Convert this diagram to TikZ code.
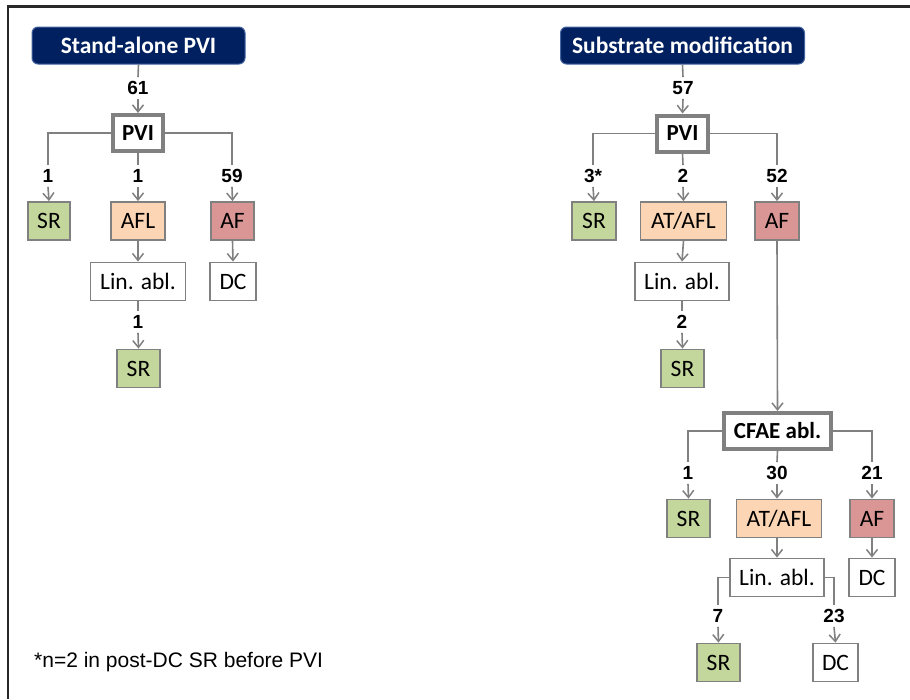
\documentclass[tikz,border=0pt]{standalone}
\usepackage{fontspec}
\setmainfont{Carlito}
\newfontfamily\numfont{Liberation Sans}
\usetikzlibrary{arrows.meta}
\definecolor{hdrblue}{RGB}{0,32,96}
\definecolor{hdredge}{RGB}{70,100,160}
\definecolor{srgreen}{RGB}{195,214,155}
\definecolor{flpeach}{RGB}{252,213,180}
\definecolor{afred}{RGB}{217,150,148}
\definecolor{edgegrey}{RGB}{128,128,128}
\definecolor{framegrey}{RGB}{40,40,40}
\tikzset{
  hdr/.style={draw=hdredge, line width=1pt, fill=hdrblue, rounded corners=6pt, text=white,
    font=\fontsize{23.5}{26}\selectfont\bfseries, inner sep=0pt, minimum height=37pt},
  box/.style={draw=edgegrey, line width=1.8pt, inner sep=0pt, minimum height=38pt,
    font=\fontsize{23.5}{26}\selectfont, fill=white},
  thickbox/.style={draw=edgegrey, line width=4pt, inner sep=0pt, minimum height=36pt,
    font=\fontsize{23}{26}\selectfont\bfseries, fill=white},
  srbox/.style={box, fill=srgreen},
  flbox/.style={box, fill=flpeach},
  afbox/.style={box, fill=afred},
  lab/.style={font=\numfont\fontsize{19}{21}\selectfont\bfseries, inner xsep=0pt, inner ysep=4pt,
    text height=13.5pt, text depth=0pt},
  conn/.style={draw=edgegrey, line width=1.6pt},
  arr/.style={conn, -{Straight Barb[length=7pt,width=11pt,line width=1.5pt]}},
}
\begin{document}
\begin{tikzpicture}[x=1pt,y=-1pt]
\useasboundingbox (0,0) rectangle (910,699);
% frame
\draw[framegrey, line width=2.2pt] (8,699) -- (8,6.5) -- (910,6.5);

% ===== Left tree =====
\node[hdr, minimum width=213pt] (hdrL) at (138.5,45.5) {Stand-alone PVI};
\node[lab] (n61) at (138,88) {61};
\node[thickbox, minimum width=50pt] (pviL) at (138,133) {PVI};
\node[lab] (lL1) at (48,176) {1};
\node[lab] (lL2) at (138,176) {1};
\node[lab] (lL3) at (232,176) {59};
\node[srbox, minimum width=42pt] (srL1) at (49,221) {SR};
\node[flbox, minimum width=54pt] (aflL) at (138,221) {AFL};
\node[afbox, minimum width=43pt] (afL) at (232.5,221) {AF};
\node[box, minimum width=95pt] (linL) at (138,281.5) {Lin. abl.};
\node[box, minimum width=46pt] (dcL) at (233,281.5) {DC};
\node[lab] (lL4) at (138,322) {1};
\node[srbox, minimum width=43pt] (srL2) at (138.5,368.5) {SR};

\draw[conn] (hdrL.south) -- (n61.north);
\draw[arr] (n61.south) -- (pviL.north);
\draw[conn] (pviL.west) -| (lL1.north);
\draw[conn] (pviL.south) -- (lL2.north);
\draw[conn] (pviL.east) -| (lL3.north);
\draw[arr] (lL1.south) -- (srL1.north);
\draw[arr] (lL2.south) -- (aflL.north);
\draw[arr] (lL3.south) -- (afL.north);
\draw[arr] (aflL.south) -- (linL.north);
\draw[arr] (afL.south) -- (dcL.north);
\draw[conn] (linL.south) -- (lL4.north);
\draw[arr] (lL4.south) -- (srL2.north);

% ===== Right tree =====
\node[hdr, minimum width=244pt] (hdrR) at (682.5,45.5) {Substrate modification};
\node[lab] (n57) at (683,88) {57};
\node[thickbox, minimum width=51pt] (pviR) at (682.5,133.5) {PVI};
\node[lab] (lR1) at (593,176) {3*};
\node[lab] (lR2) at (683,176) {2};
\node[lab] (lR3) at (777,176) {52};
\node[srbox, minimum width=44pt] (srR1) at (594,221) {SR};
\node[flbox, minimum width=86pt] (atR1) at (683.5,221) {AT/AFL};
\node[afbox, minimum width=44pt] (afR1) at (777,221) {AF};
\node[box, minimum width=94pt] (linR1) at (682,281.5) {Lin. abl.};
\node[lab] (lR4) at (682,322) {2};
\node[srbox, minimum width=43pt] (srR2) at (682.5,368.5) {SR};

\node[thickbox, minimum width=107pt] (cfae) at (777.5,431) {CFAE abl.};
\node[lab] (lC1) at (688,473) {1};
\node[lab] (lC2) at (777,473) {30};
\node[lab] (lC3) at (872,473) {21};
\node[srbox, minimum width=43pt] (srC) at (688.5,518.5) {SR};
\node[flbox, minimum width=85pt] (atC) at (779,518.5) {AT/AFL};
\node[afbox, minimum width=44pt] (afC) at (872,518.5) {AF};
\node[box, minimum width=94pt] (linC) at (777,577.5) {Lin. abl.};
\node[box, minimum width=46pt] (dcC) at (872,577.5) {DC};
\node[lab] (lC4) at (718,616) {7};
\node[lab] (lC5) at (834,616) {23};
\node[srbox, minimum width=43pt] (srC2) at (718.5,662.5) {SR};
\node[box, minimum width=45pt] (dcC2) at (835.5,662.5) {DC};

\draw[conn] (hdrR.south) -- (n57.north);
\draw[arr] (n57.south) -- (pviR.north);
\draw[conn] (pviR.west) -| (lR1.north);
\draw[conn] (pviR.south) -- (lR2.north);
\draw[conn] (pviR.east) -| (lR3.north);
\draw[arr] (lR1.south) -- (srR1.north);
\draw[arr] (lR2.south) -- (atR1.north);
\draw[arr] (lR3.south) -- (afR1.north);
\draw[arr] (atR1.south) -- (linR1.north);
\draw[conn] (linR1.south) -- (lR4.north);
\draw[arr] (lR4.south) -- (srR2.north);
\draw[arr] (afR1.south) -- (cfae.north);

\draw[conn] (cfae.west) -| (lC1.north);
\draw[conn] (cfae.south) -- (lC2.north);
\draw[conn] (cfae.east) -| (lC3.north);
\draw[arr] (lC1.south) -- (srC.north);
\draw[arr] (lC2.south) -- (lC2.south |- atC.north);
\draw[arr] (lC3.south) -- (afC.north);
\draw[arr] (atC.south -| linC.north) -- (linC.north);
\draw[arr] (afC.south) -- (dcC.north);
\draw[conn] (linC.west) -| (lC4.north);
\draw[conn] (linC.east) -| (lC5.north);
\draw[arr] (lC4.south) -- (srC2.north);
\draw[arr] (lC5.south) -- (dcC2.north);

% footnote
\node[anchor=west, font=\numfont\fontsize{21}{24}\selectfont, inner sep=0pt] (note) at (34,662) {*n=2 in post-DC SR before PVI};
\end{tikzpicture}
\end{document}
